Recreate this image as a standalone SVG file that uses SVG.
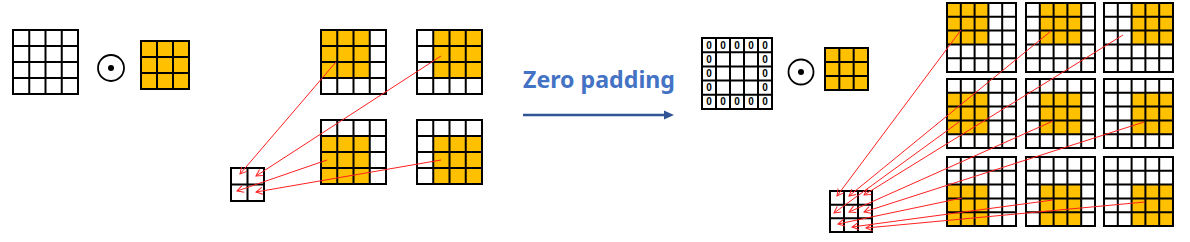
<svg xmlns="http://www.w3.org/2000/svg" xmlns:xlink="http://www.w3.org/1999/xlink" width="1190" height="242" viewBox="0 0 1190 242">
<style>
.g{fill:none;stroke:#000;stroke-width:2}
.o{fill:#FFC000}
.w{fill:#fff}
.c{stroke:#FF2020;stroke-width:1;fill:none}
.z{font-family:"Liberation Sans",Arial,sans-serif;font-weight:bold;font-size:10px;text-anchor:middle;fill:#000}
.t{font-family:"Noto Sans","Noto Sans CJK KR",sans-serif;font-weight:bold;font-size:23px;fill:#4472C4}
</style>
<defs>
<path id="g4" d="M0 0H65V64H0Z M16.25 0V64 M32.5 0V64 M48.75 0V64 M0 16H65 M0 32H65 M0 48H65"/>
<path id="g5" d="M0 0H69V69H0Z M13.8 0V69 M27.6 0V69 M41.4 0V69 M55.2 0V69 M0 13.8H69 M0 27.6H69 M0 41.4H69 M0 55.2H69"/>
<marker id="ah" markerUnits="userSpaceOnUse" markerWidth="10" markerHeight="10" refX="7" refY="4" orient="auto">
<path d="M0.5 0.5L7 4L0.5 7.5" fill="none" stroke="#FF2020" stroke-width="1"/>
</marker>
</defs>
<rect width="1190" height="242" fill="#fff"/>

<g id="input4x4" transform="translate(13,30)"><rect class="w" width="65" height="64"/><use href="#g4" class="g"/></g>
<g id="conv1"><circle cx="111" cy="68" r="13" fill="none" stroke="#000" stroke-width="1.8"/><circle cx="111" cy="68" r="3" fill="#000"/></g>
<g id="kernel1" transform="translate(141,41)"><rect class="o" width="48" height="48"/><path class="g" d="M0 0H48V48H0Z M16 0V48 M32 0V48 M0 16H48 M0 32H48"/></g>

<g id="pos00" transform="translate(321,30)"><rect class="w" width="65" height="64"/><rect class="o" x="0" y="0" width="48.75" height="48"/><use href="#g4" class="g"/></g>
<g id="pos01" transform="translate(417,30)"><rect class="w" width="65" height="64"/><rect class="o" x="16.25" y="0" width="48.75" height="48"/><use href="#g4" class="g"/></g>
<g id="pos10" transform="translate(321,120)"><rect class="w" width="65" height="64"/><rect class="o" x="0" y="16" width="48.75" height="48"/><use href="#g4" class="g"/></g>
<g id="pos11" transform="translate(417,120)"><rect class="w" width="65" height="64"/><rect class="o" x="16.25" y="16" width="48.75" height="48"/><use href="#g4" class="g"/></g>

<g id="output2x2" transform="translate(231,168)"><rect class="w" width="33" height="33"/><path class="g" d="M0 0H33V33H0Z M16.5 0V33 M0 16.5H33"/></g>

<g id="zeroPadding">
<text class="t" x="523" y="88" textLength="152" lengthAdjust="spacingAndGlyphs">Zero padding</text>
<line x1="523" y1="115" x2="665" y2="115" stroke="#2F5597" stroke-width="2.5"/>
<polygon points="664,110.5 674,115 664,119.5" fill="#2F5597"/>
</g>

<g id="padded5x5" transform="translate(702,38)">
<rect class="w" width="70" height="71"/>
<path class="g" d="M0 0H70V71H0Z M14 0V71 M28 0V71 M42 0V71 M56 0V71 M0 14.2H70 M0 28.4H70 M0 42.6H70 M0 56.8H70"/>
<g class="z">
<text x="7" y="10.5">0</text><text x="21" y="10.5">0</text><text x="35" y="10.5">0</text><text x="49" y="10.5">0</text><text x="63" y="10.5">0</text>
<text x="7" y="24.7">0</text><text x="63" y="24.7">0</text>
<text x="7" y="38.9">0</text><text x="63" y="38.9">0</text>
<text x="7" y="53.1">0</text><text x="63" y="53.1">0</text>
<text x="7" y="67.3">0</text><text x="21" y="67.3">0</text><text x="35" y="67.3">0</text><text x="49" y="67.3">0</text><text x="63" y="67.3">0</text>
</g>
</g>
<g id="conv2"><circle cx="801" cy="72" r="12.5" fill="none" stroke="#000" stroke-width="1.8"/><circle cx="801" cy="72" r="3" fill="#000"/></g>
<g id="kernel2" transform="translate(825,48)"><rect class="o" width="43" height="42"/><path class="g" d="M0 0H43V42H0Z M14.33 0V42 M28.67 0V42 M0 14H43 M0 28H43"/></g>

<g id="p00" transform="translate(947,3)"><rect class="w" width="69" height="69"/><rect class="o" x="0" y="0" width="41.4" height="41.4"/><use href="#g5" class="g"/></g>
<g id="p01" transform="translate(1026,3)"><rect class="w" width="69" height="69"/><rect class="o" x="13.8" y="0" width="41.4" height="41.4"/><use href="#g5" class="g"/></g>
<g id="p02" transform="translate(1104,3)"><rect class="w" width="69" height="69"/><rect class="o" x="27.6" y="0" width="41.4" height="41.4"/><use href="#g5" class="g"/></g>
<g id="p10" transform="translate(947,79)"><rect class="w" width="69" height="69"/><rect class="o" x="0" y="13.8" width="41.4" height="41.4"/><use href="#g5" class="g"/></g>
<g id="p11" transform="translate(1026,79)"><rect class="w" width="69" height="69"/><rect class="o" x="13.8" y="13.8" width="41.4" height="41.4"/><use href="#g5" class="g"/></g>
<g id="p12" transform="translate(1104,79)"><rect class="w" width="69" height="69"/><rect class="o" x="27.6" y="13.8" width="41.4" height="41.4"/><use href="#g5" class="g"/></g>
<g id="p20" transform="translate(947,157)"><rect class="w" width="69" height="69"/><rect class="o" x="0" y="27.6" width="41.4" height="41.4"/><use href="#g5" class="g"/></g>
<g id="p21" transform="translate(1026,157)"><rect class="w" width="69" height="69"/><rect class="o" x="13.8" y="27.6" width="41.4" height="41.4"/><use href="#g5" class="g"/></g>
<g id="p22" transform="translate(1104,157)"><rect class="w" width="69" height="69"/><rect class="o" x="27.6" y="27.6" width="41.4" height="41.4"/><use href="#g5" class="g"/></g>

<g id="output3x3" transform="translate(830,191)"><rect class="w" width="42" height="41"/><path class="g" d="M0 0H42V41H0Z M14 0V41 M28 0V41 M0 13.67H42 M0 27.33H42"/></g>

<g id="connectors" class="c" marker-end="url(#ah)">
<line x1="336" y1="62" x2="240" y2="174"/>
<line x1="441" y1="56" x2="256" y2="176"/>
<line x1="327" y1="160" x2="237" y2="191"/>
<line x1="441" y1="160" x2="256" y2="192"/>
<line x1="961" y1="30" x2="837" y2="196"/>
<line x1="1051" y1="31" x2="849" y2="196"/>
<line x1="1123" y1="35" x2="864" y2="195"/>
<line x1="959" y1="122" x2="834" y2="213"/>
<line x1="1053" y1="121" x2="849" y2="212"/>
<line x1="1144" y1="122" x2="864" y2="212"/>
<line x1="962" y1="198" x2="838" y2="224"/>
<line x1="1053" y1="200" x2="852" y2="227"/>
<line x1="1145" y1="202" x2="866" y2="228"/>
</g>
</svg>
